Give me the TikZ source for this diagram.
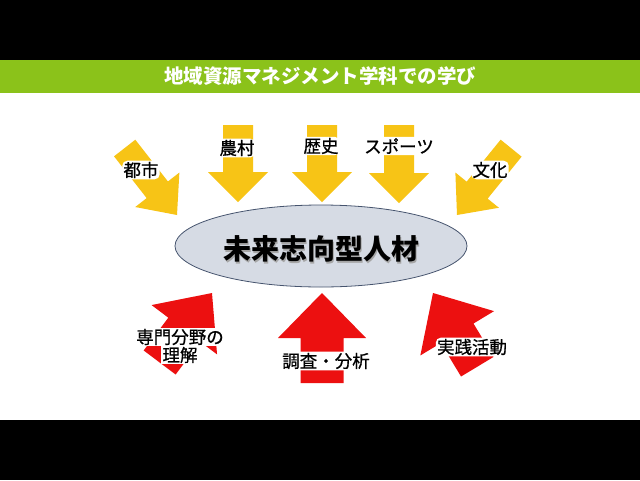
\documentclass[tikz,border=0pt]{standalone}
\usepackage{fontspec}
\setmainfont{Noto Sans CJK JP}
\newfontfamily\lblfont{Noto Sans CJK JP}[FakeBold=0.8]
\usetikzlibrary{shapes.geometric}
\definecolor{ttlgreen}{RGB}{139,194,26}
\definecolor{ylw}{RGB}{247,196,22}
\definecolor{rd}{RGB}{236,16,16}
\definecolor{ellfill}{RGB}{214,219,228}
\definecolor{elldraw}{RGB}{70,84,110}
\newcommand\myshadow[1]{\rlap{\kern1.8pt\raisebox{-1.8pt}{\color{black!35}#1}}#1}
\newcommand\mybox[1]{{\setlength\fboxsep{1.2pt}\colorbox{white}{#1}}}
\tikzset{
  pics/barrow/.style n args={5}{code={
    \fill[#5] (0,0) -- (#3,#4) -- (#2,#4) -- (#2,#1) -- (-#2,#1) -- (-#2,#4) -- (-#3,#4) -- cycle;
  }},
  lbl/.style={font=\lblfont\fontsize{17.5}{21}\selectfont, text=black, inner sep=1.2pt, fill=white, rounded corners=5pt, align=center},
}
\begin{document}
\begin{tikzpicture}[x=1pt,y=-1pt]
\useasboundingbox (0,0) rectangle (640,480);
\fill[black] (0,0) rectangle (640,480);
\fill[white] (0,93) rectangle (640,420);
\fill[ttlgreen] (0,60) rectangle (640,93);
\node[text=white, font=\bfseries\fontsize{19.5}{23}\selectfont, inner sep=0pt] (title) at (320,76) {地域資源マネジメント学科での学び};

% yellow arrows
\pic[rotate=218] at (177,215) {barrow={85}{13.5}{28}{32}{ylw}};
\pic[rotate=180] at (238,202) {barrow={77}{15}{30}{30}{ylw}};
\pic[rotate=180] at (322,202) {barrow={77}{15}{30}{30}{ylw}};
\pic[rotate=180] at (399,203) {barrow={78}{15}{30}{30}{ylw}};
\pic[rotate=141] at (457,215) {barrow={86}{13.5}{28}{32}{ylw}};

% red arrows
\pic[rotate=-37] at (212,293) {barrow={87}{20}{41}{46}{rd}};
\pic at (322,293) {barrow={90}{21.5}{44}{45}{rd}};
\pic[rotate=31] at (433,293) {barrow={86}{19}{43}{47}{rd}};

% central ellipse
\node[ellipse, draw=elldraw, line width=0.8pt, fill=ellfill, minimum width=292pt, minimum height=82pt, inner sep=0pt] (core) at (321,246) {};
\node[font=\bfseries\fontsize{28}{32}\selectfont, inner sep=0pt] (coretext) at (321,250) {\myshadow{未来志向型人材}};

% labels
\node[lbl] (toshi) at (141,170) {都市};
\node[lbl] (noson) at (237,148) {農村};
\node[lbl] (rekishi) at (321,146) {歴史};
\node[lbl] (sports) at (399,146) {スポーツ};
\node[lbl] (bunka) at (490,170) {文化};
\node[lbl, fill=none] (senmon) at (180,346) {\mybox{専門分野の}\\[-3pt]\mybox{理解}};
\node[lbl] (chosa) at (326,361) {調査・分析};
\node[lbl] (jissen) at (472,347) {実践活動};
\end{tikzpicture}
\end{document}
